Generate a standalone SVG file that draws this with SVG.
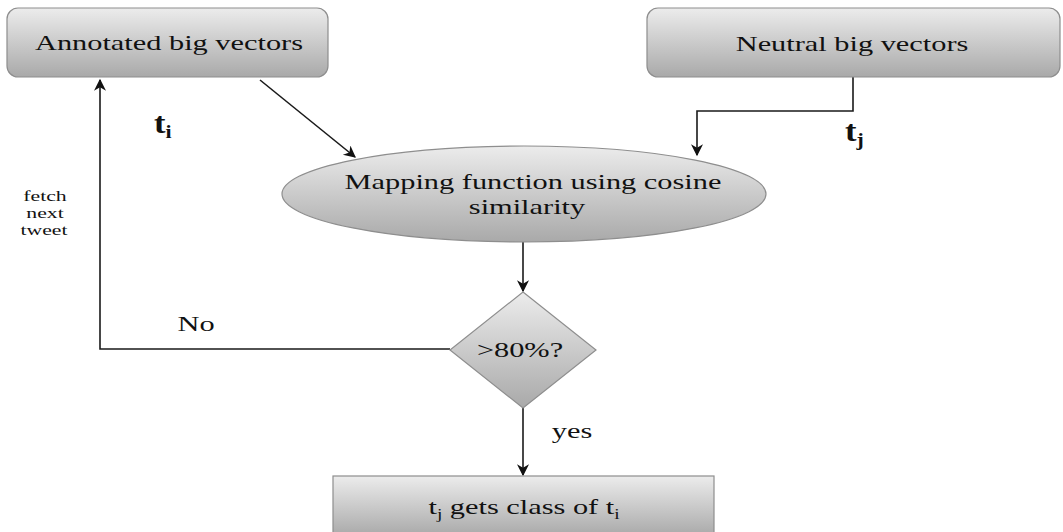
<svg xmlns="http://www.w3.org/2000/svg" width="1063" height="532" viewBox="0 0 1063 532">
  <defs>
    <linearGradient id="shade" x1="0" y1="0" x2="0" y2="1">
      <stop offset="0" stop-color="#ececec"/>
      <stop offset="1" stop-color="#a9a9a9"/>
    </linearGradient>
    <marker id="arrow" viewBox="0 0 10 10" refX="9" refY="5" markerWidth="13" markerHeight="12" markerUnits="userSpaceOnUse" orient="auto">
      <path d="M0,0 L10,5 L0,10 L3,5 z" fill="#111"/>
    </marker>
  </defs>
  <style>
    .shape { fill: url(#shade); stroke: #8e8e8e; stroke-width: 1.2; }
    .lbl { font-family: "Liberation Serif", "Times New Roman", serif; font-size: 22px; fill: #111; text-anchor: middle; }
    .small { font-size: 15px; }
    .line { fill: none; stroke: #1a1a1a; stroke-width: 1.6; }
    .var { font-family: "Liberation Serif", "Times New Roman", serif; font-weight: bold; font-size: 30px; fill: #111; }
  </style>
  <rect width="1063" height="532" fill="#ffffff"/>

  <g id="connectors">
    <line class="line" x1="260" y1="80" x2="355" y2="157" marker-end="url(#arrow)"/>
    <polyline class="line" points="853,77 853,111 697,111 697,155" marker-end="url(#arrow)"/>
    <line class="line" x1="523" y1="242" x2="523" y2="291" marker-end="url(#arrow)"/>
    <polyline class="line" points="450,349 100,349 100,80" marker-end="url(#arrow)"/>
    <line class="line" x1="523" y1="408" x2="523" y2="475" marker-end="url(#arrow)"/>
  </g>

  <!-- labels use a wide (horizontally stretched) serif face -->
  <g id="annotated">
    <rect class="shape" x="7" y="8" width="321" height="69" rx="11" ry="11"/>
    <text class="lbl" transform="translate(169,50) scale(1.38,1)">Annotated big vectors</text>
  </g>

  <g id="neutral">
    <rect class="shape" x="647" y="8" width="413" height="69" rx="11" ry="11"/>
    <text class="lbl" transform="translate(852,51) scale(1.38,1)">Neutral big vectors</text>
  </g>

  <g id="mapping">
    <ellipse class="shape" cx="524" cy="194" rx="242" ry="48"/>
    <text class="lbl" transform="translate(533,189) scale(1.38,1)">Mapping function using cosine</text>
    <text class="lbl" transform="translate(527,214) scale(1.38,1)">similarity</text>
  </g>

  <g id="threshold">
    <polygon class="shape" points="523,292 596,350 523,408 450,350"/>
    <text class="lbl" transform="translate(520,357) scale(1.38,1)">&gt;80%?</text>
  </g>

  <g id="result">
    <rect class="shape" x="333" y="476" width="381" height="60"/>
    <text class="lbl" transform="translate(524,514) scale(1.38,1)">t<tspan font-size="14" dy="5">j</tspan><tspan dy="-5"> gets class of t</tspan><tspan font-size="14" dy="5">i</tspan></text>
  </g>

  <g id="labels">
    <text class="var" transform="translate(154,133) scale(1.15,1)">t<tspan font-size="19" dy="5">i</tspan></text>
    <text class="var" transform="translate(845,141) scale(1.15,1)">t<tspan font-size="19" dy="5">j</tspan></text>
    <text class="lbl small" transform="translate(45,201) scale(1.45,1)">fetch</text>
    <text class="lbl small" transform="translate(45,218) scale(1.45,1)">next</text>
    <text class="lbl small" transform="translate(44,235) scale(1.45,1)">tweet</text>
    <text class="lbl" transform="translate(196,331) scale(1.38,1)">No</text>
    <text class="lbl" transform="translate(572,438) scale(1.38,1)">yes</text>
  </g>
</svg>
